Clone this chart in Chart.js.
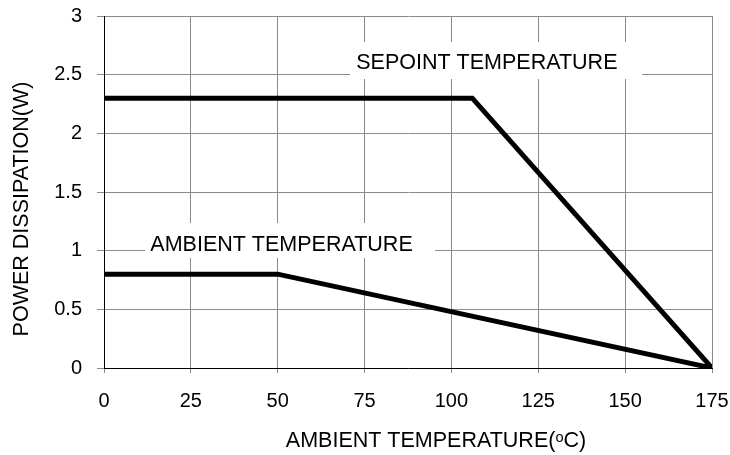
<!DOCTYPE html>
<html>
<head>
<meta charset="utf-8">
<script src="https://cdn.jsdelivr.net/npm/chart.js@4"></script>
<style>
  body { margin: 0; background: #fff; }
  #wrap { width: 730px; height: 455px; }
</style>
</head>
<body>
<div id="wrap"><canvas id="deratingChart" width="730" height="455"></canvas></div>
<script>
// Derating curves
const setpointX = [0, 106, 175];
const setpointY = [2.3, 2.3, 0];
const ambientX = [0, 50, 175];
const ambientY = [0.8, 0.8, 0];
const xTicks = [0, 25, 50, 75, 100, 125, 150, 175];
const yTicks = [0, 0.5, 1, 1.5, 2, 2.5, 3];

const xTitle = 'AMBIENT TEMPERATURE(ᵒC)';
const yTitle = 'POWER DISSIPATION(W)';

// Curve labels (data units): text, centre x, baseline y, white box [x1, y1, x2, y2]
const curveLabels = [
    { text: 'SEPOINT TEMPERATURE', x: 110.2, y: 2.546, box: [70.8, 2.463, 154.9, 2.778] },
    { text: 'AMBIENT TEMPERATURE', x: 51.1, y: 1.0, box: [11.8, 0.9375, 95.3, 1.236] }
];

const FONT = '"Liberation Sans", Arial, sans-serif';
const TEXT_SIZE = 21.5;
const TICK_SIZE = 20;

function toPoints(xs, ys) {
    return xs.map((x, i) => ({ x: x, y: ys[i] }));
}

// Labels over the grid with a white background
const labelPlugin = {
    id: 'curveLabels',
    beforeDatasetsDraw(chart) {
        const ctx = chart.ctx;
        const xs = chart.scales.x, ys = chart.scales.y;
        ctx.save();
        curveLabels.forEach(l => {
            const x1 = xs.getPixelForValue(l.box[0]);
            const x2 = xs.getPixelForValue(l.box[2]);
            const y1 = ys.getPixelForValue(l.box[3]);
            const y2 = ys.getPixelForValue(l.box[1]);
            ctx.fillStyle = '#fff';
            ctx.fillRect(x1, y1, x2 - x1, y2 - y1);
            ctx.fillStyle = '#000';
            ctx.font = TEXT_SIZE + 'px ' + FONT;
            ctx.textAlign = 'center';
            ctx.textBaseline = 'alphabetic';
            ctx.fillText(l.text, xs.getPixelForValue(l.x), ys.getPixelForValue(l.y));
        });
        ctx.restore();
    }
};

// Axis titles are a bit off-centre in the original, so draw them here
const titlePlugin = {
    id: 'axisTitles',
    afterDraw(chart) {
        const ctx = chart.ctx;
        ctx.save();
        ctx.fillStyle = '#000';
        ctx.font = TEXT_SIZE + 'px ' + FONT;
        ctx.textAlign = 'center';
        ctx.textBaseline = 'alphabetic';
        ctx.fillText(xTitle, 436, 446.5);
        ctx.translate(28, 209);
        ctx.rotate(-Math.PI / 2);
        ctx.fillText(yTitle, 0, 0);
        ctx.restore();
    }
};

new Chart(document.getElementById('deratingChart'), {
    type: 'line',
    data: {
        datasets: [
            {
                label: 'SEPOINT TEMPERATURE',
                data: toPoints(setpointX, setpointY),
                borderColor: '#000',
                borderWidth: 5,
                pointRadius: 0,
                tension: 0,
                fill: false
            },
            {
                label: 'AMBIENT TEMPERATURE',
                data: toPoints(ambientX, ambientY),
                borderColor: '#000',
                borderWidth: 5,
                pointRadius: 0,
                tension: 0,
                fill: false
            }
        ]
    },
    options: {
        responsive: false,
        animation: false,
        layout: { padding: { top: 16, right: 18, left: 0, bottom: 0 } },
        plugins: {
            legend: { display: false },
            tooltip: { enabled: false }
        },
        scales: {
            x: {
                type: 'linear',
                min: 0,
                max: 175,
                afterBuildTicks: axis => { axis.ticks = xTicks.map(v => ({ value: v })); },
                afterFit: axis => {
                    axis.height = 87;
                    axis.paddingLeft = 0;
                    axis.paddingRight = 0;
                },
                grid: { color: '#8a8a8a', lineWidth: 1, tickLength: 5 },
                border: { color: '#000', width: 1 },
                ticks: { color: '#000', font: { family: FONT, size: TICK_SIZE }, padding: 16, maxRotation: 0 }
            },
            y: {
                min: 0,
                max: 3,
                afterBuildTicks: axis => { axis.ticks = yTicks.map(v => ({ value: v })); },
                afterFit: axis => {
                    axis.width = 104;
                    axis.paddingTop = 0;
                    axis.paddingBottom = 0;
                },
                grid: { color: '#8a8a8a', lineWidth: 1, tickLength: 7 },
                border: { color: '#000', width: 1 },
                ticks: {
                    color: '#000',
                    font: { family: FONT, size: TICK_SIZE },
                    padding: 15,
                    callback: v => String(v)
                }
            }
        }
    },
    plugins: [labelPlugin, titlePlugin]
});
</script>
</body>
</html>
